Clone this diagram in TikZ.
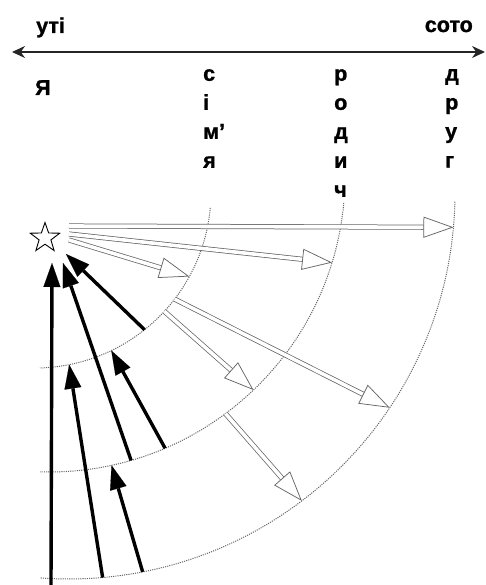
\documentclass[tikz,border=0pt]{standalone}
\usepackage{fontspec}
\setmainfont{Liberation Sans}
\newfontfamily\heavyfont{Liberation Sans Bold}[FakeBold=1.2]
\usetikzlibrary{arrows.meta,calc,shapes.geometric}
\definecolor{ringgray}{HTML}{666666}
\definecolor{shaftgray}{HTML}{666666}

\begin{document}
\begin{tikzpicture}[x=1pt,y=-1pt,
  word/.style={font=\fontsize{21.5}{29}\heavyfont, inner sep=0pt},
  ring/.style={ringgray, line width=1pt, dash pattern=on 1.1pt off 1.1pt},
  hollow/.style={draw=shaftgray, line width=0.75pt, double=white, double distance=3.6pt,
    -{Triangle[length=30pt, width=21pt, fill=white, line width=0.75pt]}},
  pull/.style={line width=3.4pt, -{Triangle[length=24pt, width=17pt, line width=0.1pt]}}]
  \useasboundingbox (0,0) rectangle (486,585);

  \coordinate (west) at (12,52);
  \coordinate (east) at (485,52);
  \draw[line width=1.2pt, black!85, {Stealth[length=13pt,width=12pt]}-{Stealth[length=13pt,width=12pt]}] (west) -- (east);
  \node[word, anchor=base west] (uti) at (36,33) {уті};
  \node[word, anchor=base east] (soto) at (473,32) {сото};
  \node[word, anchor=base west] (ja) at (35,95) {Я};
  \node[word, align=left, anchor=north west] (simja) at (203,69) {с\\і\\м’\\я};
  \node[word, align=left, anchor=north west] (rodych) at (334,69) {р\\о\\д\\и\\ч};
  \node[word, align=left, anchor=north west] (druh) at (445,69) {д\\р\\у\\г};

  \node[star, star points=5, star point ratio=2.5, draw, line width=0.9pt, minimum size=31pt, inner sep=0pt] (me) at (45,238) {};

  \coordinate (c1) at (35,192);
  \coordinate (c2) at (49,176);
  \coordinate (c3) at (69,193);
  \draw[ring] ($(c1)+(5.2:176)$) arc[start angle=5.2, end angle=88.4, radius=176];
  \draw[ring] ($(c2)+(5.2:296)$) arc[start angle=5.2, end angle=91.7, radius=296];
  \draw[ring] ($(c3)+(1.3:386)$) arc[start angle=1.3, end angle=94.3, radius=386];

  \coordinate (r1a) at ($(c1)+(28.7:176)$);
  \coordinate (r1b) at ($(c1)+(37.5:176)$);
  \coordinate (r1c) at ($(c1)+(42.7:176)$);
  \coordinate (r1d) at ($(c1)+(51.5:176)$);
  \coordinate (r1e) at ($(c1)+(64.3:176)$);
  \coordinate (r1f) at ($(c1)+(78.8:176)$);
  \coordinate (r2a) at ($(c2)+(17.0:296)$);
  \coordinate (r2b) at ($(c2)+(46.3:296)$);
  \coordinate (r2c) at ($(c2)+(53.4:296)$);
  \coordinate (r2d) at ($(c2)+(66.9:296)$);
  \coordinate (r2e) at ($(c2)+(73.9:296)$);
  \coordinate (r2f) at ($(c2)+(77.8:296)$);
  \coordinate (r3a) at ($(c3)+(5.1:386)$);
  \coordinate (r3b) at ($(c3)+(33.8:386)$);
  \coordinate (r3c) at ($(c3)+(52.9:386)$);
  \coordinate (r3d) at ($(c3)+(79.0:386)$);
  \coordinate (r3e) at ($(c3)+(85.0:386)$);

  \coordinate (h1) at (69,226);
  \coordinate (h2) at (69,234);
  \coordinate (h3) at (69,240);
  \draw[hollow] (h1) -- (r3a);
  \draw[hollow] (h2) -- (r2a);
  \draw[hollow] (h3) -- (r1a);
  \draw[hollow] (r1b) -- (r3b);
  \draw[hollow] (r1c) -- (r2b);
  \draw[hollow] (r2c) -- (r3c);

  \coordinate (foot) at (51,585);
  \coordinate (t1) at (52,263);
  \coordinate (t2) at (63,263);
  \coordinate (t3) at (66,254);
  \draw[pull] (foot) -- (t1);
  \draw[pull] (r2e) -- (t2);
  \draw[pull] (r1d) -- (t3);
  \draw[pull] (r3e) -- (r1f);
  \draw[pull] (r3d) -- (r2f);
  \draw[pull] (r2d) -- (r1e);
\end{tikzpicture}
\end{document}
